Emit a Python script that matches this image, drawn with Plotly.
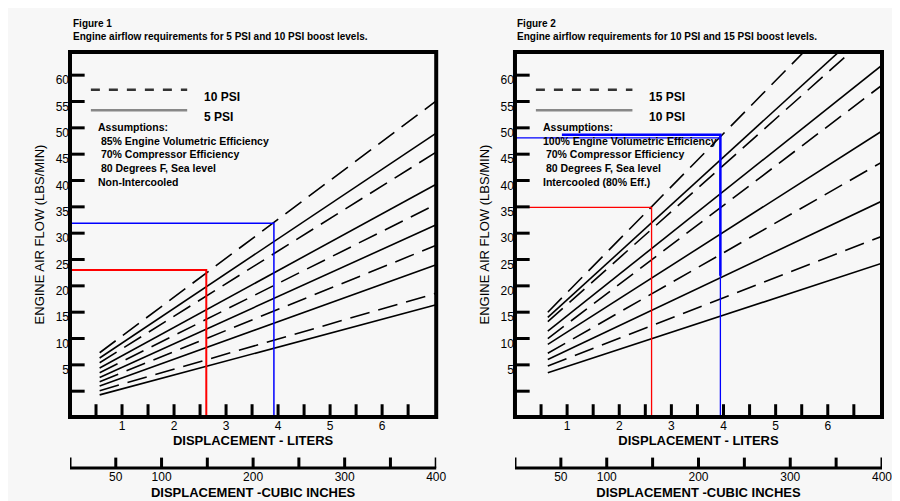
import plotly.graph_objects as go

# Figure 1 (5 / 10 PSI): line start/end values, liters
f1_x = [0.57, 7.04]
f1_starts = [6.3, 5.3, 4.4, 3.4, 2.5, 1.6, 0.8, 0.0, -0.9, -1.7]
f1_ends = [54.1, 48.0, 44.4, 38.3, 34.5, 30.6, 26.7, 23.0, 17.6, 15.4]
f1_dash = [True, False, True, False, True, False, True, False, True, False]

# Figure 2 (10 / 15 PSI)
f2_x = [0.63, 7.04]
f2_starts = [14.0, 13.0, 12.2, 10.4, 9.0, 7.9, 6.2, 5.0, 3.8, 2.5]
f2_ends = [78.5, 70.9, 68.7, 60.9, 57.1, 48.4, 42.5, 35.1, 28.4, 23.3]
f2_dash = [True, False, True, False, True, False, True, False, True, False]

# reference markers (liters, lbs/min)
f1_red = (2.62, 22.0)
f1_blue = (3.92, 30.9)
f2_red = (2.62, 33.9)
f2_blue = (3.94, 47.1, 20.9)

y_vals = [5 * k - 1 for k in range(13)]
y_text = [""] + [str(5 * k) for k in range(1, 13)]
x_vals = [0.5 * k for k in range(1, 14)]
x_text = [str(int(v)) if v == int(v) else "" for v in x_vals]
ci_vals = [50 * k for k in range(1, 9)]
ci_text = ["50", "100", "", "200", "", "300", "", "400"]

FONT = "Liberation Sans"
bg = "#f7f7f7"
Y0, Y1 = -5.9, 63.4
X1 = 7.04

fig = go.Figure()

def add_lines(xs, starts, ends, dashes, xa, ya):
    for s, e, d in zip(starts, ends, dashes):
        fig.add_scatter(x=xs, y=[s, e], mode="lines", xaxis=xa, yaxis=ya,
                        line=dict(color="black", width=1.6,
                                  dash="20px,9px" if d else "solid"),
                        showlegend=False, hoverinfo="skip")

add_lines(f1_x, f1_starts, f1_ends, f1_dash, "x", "y")
add_lines(f2_x, f2_starts, f2_ends, f2_dash, "x3", "y3")

def marker(xa, ya, lx, ly, color, w):
    fig.add_scatter(x=[0, lx, lx], y=[ly, ly, Y0], mode="lines", xaxis=xa, yaxis=ya,
                    line=dict(color=color, width=w), showlegend=False, hoverinfo="skip")

marker("x", "y", f1_red[0], f1_red[1], "red", 2)
marker("x", "y", f1_blue[0], f1_blue[1], "blue", 1.5)
marker("x3", "y3", f2_red[0], f2_red[1], "red", 1.3)
marker("x3", "y3", f2_blue[0], f2_blue[1], "blue", 1.3)
fig.add_scatter(x=[0.9, f2_blue[0], f2_blue[0]], y=[f2_blue[1] + 0.6, f2_blue[1] + 0.6, f2_blue[2]],
                mode="lines", xaxis="x3", yaxis="y3", line=dict(color="blue", width=2.5),
                showlegend=False, hoverinfo="skip")

# dummy traces so the cubic-inch axes render
fig.add_scatter(x=[0, 400], y=[0, 0], xaxis="x2", yaxis="y2", mode="lines",
                line=dict(width=0), showlegend=False, hoverinfo="skip")
fig.add_scatter(x=[0, 400], y=[0, 0], xaxis="x4", yaxis="y4", mode="lines",
                line=dict(width=0), showlegend=False, hoverinfo="skip")

dl, dr = [0, 0.451], [0.548, 1]
main_dom = [0.1226, 1]
tf = dict(family=FONT, size=12, color="black")
xcommon = dict(range=[0, X1], tickvals=x_vals, ticktext=x_text, ticks="",
               showline=False, showgrid=False, zeroline=False, automargin=False,
               tickfont=tf,
               title=dict(text="<b>DISPLACEMENT - LITERS</b>", standoff=2,
                          font=dict(family=FONT, size=13, color="black")))
ycommon = dict(range=[Y0, Y1], tickvals=y_vals, ticktext=y_text, ticks="",
               showline=False, showgrid=False, zeroline=False, automargin=False,
               ticklabelshift=5, domain=main_dom, tickfont=tf,
               title=dict(text="ENGINE AIR FLOW (LBS/MIN)", standoff=8,
                          font=dict(family=FONT, size=13, color="black")))
cicommon = dict(range=[0, 400], tickvals=ci_vals, ticktext=ci_text, ticks="",
                showline=False, showgrid=False, zeroline=False, automargin=False,
                tickfont=tf,
                title=dict(text="<b>DISPLACEMENT -CUBIC INCHES</b>", standoff=4,
                           font=dict(family=FONT, size=13, color="black")))
ydummy = dict(domain=[0, 0.002], visible=False, range=[0, 1])

fig.update_layout(
    width=900, height=501, paper_bgcolor=bg, plot_bgcolor=bg,
    margin=dict(l=62, r=26, t=44, b=41, autoexpand=False),
    xaxis=dict(xcommon, domain=dl, anchor="y"),
    yaxis=dict(ycommon, anchor="x"),
    xaxis2=dict(cicommon, domain=dl, anchor="y2"),
    yaxis2=dict(ydummy, anchor="x2"),
    xaxis3=dict(xcommon, domain=dr, anchor="y3"),
    yaxis3=dict(ycommon, anchor="x3"),
    xaxis4=dict(cicommon, domain=dr, anchor="y4"),
    yaxis4=dict(ydummy, anchor="x4"),
)

# frames and tick marks drawn as shapes
for xa, ya, ca in [("x", "y", "x2"), ("x3", "y3", "x4")]:
    fig.add_shape(type="rect", xref=f"{xa} domain", yref=f"{ya} domain", x0=0, x1=1, y0=0, y1=1,
                  line=dict(color="black", width=4))
    for v in x_vals:
        fig.add_shape(type="line", xref=xa, yref=f"{ya} domain", x0=v, x1=v, y0=0, y1=0.035,
                      line=dict(color="black", width=3))
    for v in y_vals:
        fig.add_shape(type="line", xref=f"{xa} domain", yref=ya, x0=0, x1=0.04, y0=v, y1=v,
                      line=dict(color="black", width=3))
    fig.add_shape(type="line", xref=f"{ca} domain", yref="paper", x0=0, x1=1, y0=0, y1=0,
                  line=dict(color="black", width=3))
    for v in [0] + ci_vals:
        fig.add_shape(type="line", xref=ca, yref="paper", x0=v, x1=v, y0=0, y1=0.025,
                      line=dict(color="black", width=3))

def texts(xd, xa, title, sub, hi, lo, assumptions):
    fig.add_annotation(xref="paper", yref="paper", x=xd, y=1, yshift=36, xanchor="left",
                       yanchor="top", showarrow=False, align="left",
                       text=f"<b>{title}<br>{sub}</b>",
                       font=dict(family=FONT, size=10, color="black"))
    for yy, lab, dash in [(0.909, hi, "dash"), (0.86, lo, "solid")]:
        fig.add_shape(type="line", xref=f"{xa} domain", yref="paper", x0=0.057, x1=0.32,
                      y0=yy, y1=yy, line=dict(color="#333" if dash == "dash" else "#888",
                                              width=2.5, dash=dash))
        fig.add_annotation(xref=f"{xa} domain", yref="paper", x=0.36, y=yy + 0.005,
                           xanchor="left", showarrow=False, text=f"<b>{lab}</b>",
                           font=dict(family=FONT, size=12, color="black"))
    fig.add_annotation(xref=f"{xa} domain", yref="paper", x=0.07, y=0.838, xanchor="left",
                       yanchor="top", showarrow=False, align="left", text=assumptions,
                       font=dict(family=FONT, size=10.5, color="black"))

texts(0.0015, "x", "Figure 1", "Engine airflow requirements for 5 PSI and 10 PSI boost levels.",
      "10 PSI", "5 PSI",
      "<b>Assumptions:<br> 85% Engine Volumetric Efficiency<br> 70% Compressor Efficiency"
      "<br> 80 Degrees F, Sea level<br>Non-Intercooled</b>")
texts(0.548, "x3", "Figure 2", "Engine airflow requirements for 10 PSI and 15 PSI boost levels.",
      "15 PSI", "10 PSI",
      "<b>Assumptions:<br>100% Engine Volumetric Efficiency<br> 70% Compressor Efficiency"
      "<br> 80 Degrees F, Sea level<br>Intercooled (80% Eff.)</b>")

fig.write_html("out.html")
